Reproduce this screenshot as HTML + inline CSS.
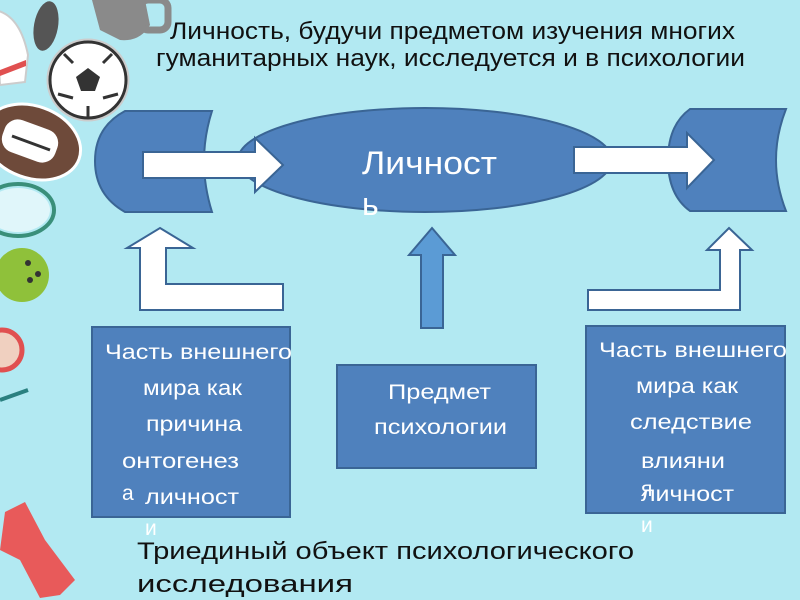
<!DOCTYPE html>
<html><head><meta charset="utf-8"><style>
html,body{margin:0;padding:0;background:#b2e9f2;}
svg{display:block;font-family:"Liberation Sans",sans-serif;}
</style></head><body>
<svg width="800" height="600" viewBox="0 0 800 600" xmlns="http://www.w3.org/2000/svg">
<rect width="800" height="600" fill="#b2e9f2"/>
<path d="M-5,10 Q20,15 28,55 L25,82 L0,85 Z" fill="#fff" stroke="#ccc" stroke-width="2"/>
<path d="M0,70 L26,60 L26,66 L0,76Z" fill="#e05050"/>
<ellipse cx="46" cy="26" rx="12" ry="25" fill="#555" transform="rotate(10 46 26)"/>
<path d="M92,0 L145,0 L150,25 Q140,42 120,40 L100,30 Z" fill="#8a8a8a"/>
<rect x="140" y="0" width="28" height="30" rx="8" fill="none" stroke="#8a8a8a" stroke-width="7"/>
<circle cx="88" cy="80" r="40" fill="#fff" stroke="#ccc" stroke-width="3"/>
<circle cx="88" cy="80" r="38" fill="none" stroke="#333" stroke-width="3"/>
<polygon points="88,68 100,77 95,91 81,91 76,77" fill="#333"/>
<path d="M64,54 L73,63 M112,54 L103,63 M58,94 L73,98 M118,94 L103,98 M88,118 L88,106" stroke="#333" stroke-width="3"/>
<ellipse cx="32" cy="142" rx="50" ry="36" fill="#6e4a3a" stroke="#fff" stroke-width="3" transform="rotate(20 32 142)"/>
<rect x="2" y="124" width="56" height="34" rx="14" fill="#fff" transform="rotate(20 30 141)"/>
<path d="M12,136 L50,150" stroke="#333" stroke-width="3"/>
<ellipse cx="18" cy="210" rx="36" ry="26" fill="none" stroke="#3a8f7a" stroke-width="4"/>
<ellipse cx="18" cy="210" rx="32" ry="22" fill="#fff" opacity="0.6"/>
<circle cx="22" cy="275" r="27" fill="#8fc13a"/>
<circle cx="28" cy="263" r="3" fill="#333"/><circle cx="38" cy="274" r="3" fill="#333"/><circle cx="30" cy="280" r="3" fill="#333"/>
<circle cx="2" cy="350" r="20" fill="#f0d0c0" stroke="#e05050" stroke-width="5"/>
<path d="M0,400 L28,390" stroke="#2a8080" stroke-width="4"/>
<path d="M5,512 L25,502 L45,540 L75,580 L60,595 L40,598 L20,560 L0,550 Z" fill="#e85a5a"/>
<path d="M125,111 L212,111 Q196,161 212,212 L125,212 Q95,195 95,161 Q95,127 125,111 Z" fill="#4f81bd" stroke="#3a6595" stroke-width="2"/>
<ellipse cx="425" cy="160" rx="187" ry="52" fill="#4f81bd" stroke="#3a6595" stroke-width="2"/>
<path d="M690,109 L786,109 Q766,160 786,211 L690,211 Q668,195 668,160 Q668,125 690,109 Z" fill="#4f81bd" stroke="#3a6595" stroke-width="2"/>
<polygon points="143,152 255,152 255,138 283,165 255,192 255,178 143,178" fill="#fff" stroke="#3a6595" stroke-width="2"/>
<polygon points="574,147 687,147 687,133 714,160 687,188 687,173 574,173" fill="#fff" stroke="#3a6595" stroke-width="2"/>
<polygon points="160,228 193,248 166,248 166,284 283,284 283,310 140,310 140,248 127,248" fill="#fff" stroke="#3a6595" stroke-width="2"/>
<polygon points="729,228 752,250 740,250 740,310 588,310 588,290 720,290 720,250 707,250" fill="#fff" stroke="#3a6595" stroke-width="2"/>
<polygon points="432,228 455,255 443,255 443,328 421,328 421,255 409,255" fill="#5b9bd5" stroke="#3a6595" stroke-width="2"/>
<rect x="92" y="327" width="198" height="190" fill="#4f81bd" stroke="#3a6595" stroke-width="2"/>
<rect x="337" y="365" width="199" height="103" fill="#4f81bd" stroke="#3a6595" stroke-width="2"/>
<rect x="586" y="326" width="199" height="187" fill="#4f81bd" stroke="#3a6595" stroke-width="2"/>
<g font-size="24" fill="#111">
<text x="170" y="39" textLength="565" lengthAdjust="spacingAndGlyphs">Личность, будучи предметом изучения многих</text>
<text x="156" y="66" textLength="589" lengthAdjust="spacingAndGlyphs">гуманитарных наук, исследуется и в психологии</text>
</g>
<text x="362" y="174" font-size="32" fill="#fff" textLength="135" lengthAdjust="spacingAndGlyphs">Личност</text>
<text x="362" y="215" font-size="32" fill="#fff">ь</text>
<g font-size="21" fill="#fff">
<text x="105" y="359" textLength="187" lengthAdjust="spacingAndGlyphs">Часть внешнего</text>
<text x="143" y="395" textLength="99" lengthAdjust="spacingAndGlyphs">мира как</text>
<text x="146" y="431" textLength="96" lengthAdjust="spacingAndGlyphs">причина</text>
<text x="122" y="468" textLength="117" lengthAdjust="spacingAndGlyphs">онтогенез</text>
<text x="122" y="500">а</text>
<text x="145" y="504" textLength="94" lengthAdjust="spacingAndGlyphs">личност</text>
<text x="145" y="535">и</text>
<text x="388" y="399" textLength="103" lengthAdjust="spacingAndGlyphs">Предмет</text>
<text x="374" y="434" textLength="133" lengthAdjust="spacingAndGlyphs">психологии</text>
<text x="599" y="357" textLength="188" lengthAdjust="spacingAndGlyphs">Часть внешнего</text>
<text x="636" y="393" textLength="102" lengthAdjust="spacingAndGlyphs">мира как</text>
<text x="630" y="429" textLength="122" lengthAdjust="spacingAndGlyphs">следствие</text>
<text x="641" y="468" textLength="84" lengthAdjust="spacingAndGlyphs">влияни</text>
<text x="641" y="496">я</text>
<text x="641" y="501" textLength="93" lengthAdjust="spacingAndGlyphs">личност</text>
<text x="641" y="532">и</text>
</g>
<g font-size="24" fill="#111">
<text x="137" y="559" textLength="497" lengthAdjust="spacingAndGlyphs">Триединый объект психологического</text>
<text x="137" y="592" textLength="216" lengthAdjust="spacingAndGlyphs">исследования</text>
</g>
</svg>
</body></html>
